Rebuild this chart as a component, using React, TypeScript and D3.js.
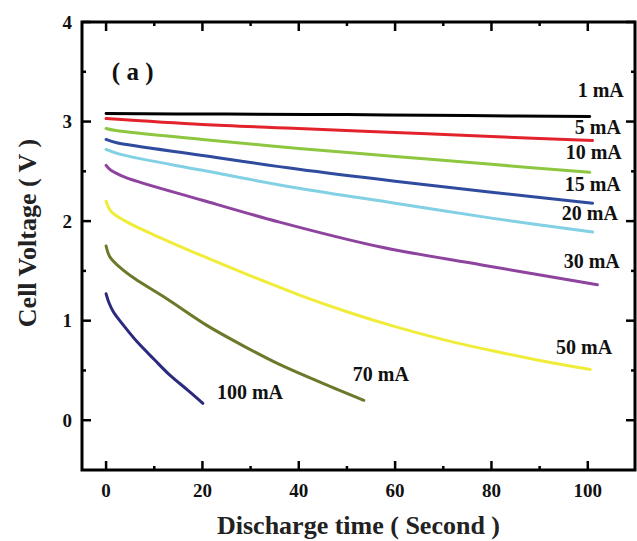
import React from 'react'
import * as d3 from 'd3'

const WIDTH = 637
const HEIGHT = 541
const MARGIN = { top: 22, right: 2, bottom: 71, left: 82 }

// discharge curves: [time (s), voltage (V)]
const curve1mA = [[0, 3.08], [25, 3.075], [50, 3.07], [75, 3.06], [100.4, 3.05]]
const curve5mA = [[0, 3.03], [20, 2.97], [40, 2.93], [60, 2.89], [80, 2.85], [101, 2.81]]
const curve10mA = [[0, 2.93], [2, 2.91], [20, 2.82], [40, 2.73], [60, 2.65], [80, 2.57], [100.4, 2.49]]
const curve15mA = [[0, 2.82], [2, 2.79], [20, 2.66], [40, 2.52], [60, 2.4], [80, 2.29], [101, 2.18]]
const curve20mA = [[0, 2.72], [3, 2.67], [20, 2.51], [40, 2.33], [60, 2.18], [80, 2.03], [101, 1.89]]
const curve30mA = [[0, 2.56], [1, 2.51], [4, 2.44], [20, 2.21], [36, 1.99], [57, 1.74], [78, 1.56], [102, 1.36]]
const curve50mA = [[0, 2.2], [1, 2.1], [4, 2.0], [10, 1.86], [20, 1.65], [30, 1.45], [40, 1.26], [50, 1.09], [60, 0.94], [70, 0.81], [80, 0.7], [90, 0.6], [100.5, 0.51]]
const curve70mA = [[0, 1.75], [0.8, 1.64], [3, 1.53], [6, 1.42], [12.6, 1.22], [21, 0.95], [28, 0.76], [36, 0.56], [45, 0.37], [53.5, 0.2]]
const curve100mA = [[0, 1.27], [0.6, 1.18], [1.5, 1.09], [4, 0.93], [6.4, 0.79], [10, 0.61], [13.3, 0.45], [17, 0.3], [20.1, 0.17]]

const seriesNames = ['1 mA', '5 mA', '10 mA', '15 mA', '20 mA', '30 mA', '50 mA', '70 mA', '100 mA']
const seriesData = [curve1mA, curve5mA, curve10mA, curve15mA, curve20mA, curve30mA, curve50mA, curve70mA, curve100mA]
const seriesColors = ['#000000', '#e3232c', '#8dc63f', '#2f4b9e', '#82d0e3', '#8e449e', '#f0ec3a', '#6b7a2a', '#2b2a7e']

// label anchors in data units (left edge, baseline)
const labelAnchors = [[97.9, 3.25], [97.3, 2.88], [95.4, 2.62], [95.2, 2.3], [94.6, 2.01], [95.0, 1.53], [93.4, 0.67], [51.2, 0.39], [23.0, 0.21]]

const xTicks = [0, 20, 40, 60, 80, 100]
const xMinorTicks = [10, 30, 50, 70, 90]
const yTicks = [0, 1, 2, 3, 4]
const yMinorTicks = [0.5, 1.5, 2.5, 3.5]

const FONT = '"Liberation Serif", "Times New Roman", serif'

export default function App() {
  const boundsWidth = WIDTH - MARGIN.left - MARGIN.right
  const boundsHeight = HEIGHT - MARGIN.top - MARGIN.bottom

  const xScale = d3.scaleLinear().domain([-5, 109.8]).range([0, boundsWidth])
  const yScale = d3.scaleLinear().domain([-0.5, 4]).range([boundsHeight, 0])

  const line = d3
    .line<number[]>()
    .x((d) => xScale(d[0]))
    .y((d) => yScale(d[1]))
    .curve(d3.curveCatmullRom.alpha(0.5))

  const MAJOR = 9
  const MINOR = 4

  return (
    <svg
      width={WIDTH}
      height={HEIGHT}
      style={{ position: 'absolute', left: 0, top: 0, background: '#fff' }}
      fontFamily={FONT}
      fontWeight="bold"
    >
      <g transform={`translate(${MARGIN.left},${MARGIN.top})`}>
        {seriesData.map((d, i) => (
          <path
            key={seriesNames[i]}
            d={line(d) || ''}
            fill="none"
            stroke={seriesColors[i]}
            strokeWidth={3}
            strokeLinecap="round"
          />
        ))}

        {seriesNames.map((name, i) => (
          <text
            key={name}
            x={xScale(labelAnchors[i][0])}
            y={yScale(labelAnchors[i][1])}
            fontSize={20}
            fill="#111"
          >
            {name}
          </text>
        ))}

        <text x={xScale(1.2)} y={yScale(3.42)} fontSize={25} fill="#111">
          ( a )
        </text>

        {/* ticks, all four sides, pointing inward */}
        {xTicks.map((t) => (
          <g key={`xt${t}`} stroke="#000" strokeWidth={2.5}>
            <line x1={xScale(t)} x2={xScale(t)} y1={boundsHeight} y2={boundsHeight - MAJOR} />
            <line x1={xScale(t)} x2={xScale(t)} y1={0} y2={MAJOR} />
          </g>
        ))}
        {xMinorTicks.map((t) => (
          <g key={`xm${t}`} stroke="#000" strokeWidth={2.5}>
            <line x1={xScale(t)} x2={xScale(t)} y1={boundsHeight} y2={boundsHeight - MINOR} />
            <line x1={xScale(t)} x2={xScale(t)} y1={0} y2={MINOR} />
          </g>
        ))}
        {yTicks.map((t) => (
          <g key={`yt${t}`} stroke="#000" strokeWidth={2.5}>
            <line x1={0} x2={MAJOR} y1={yScale(t)} y2={yScale(t)} />
            <line x1={boundsWidth} x2={boundsWidth - MAJOR} y1={yScale(t)} y2={yScale(t)} />
          </g>
        ))}
        {yMinorTicks.map((t) => (
          <g key={`ym${t}`} stroke="#000" strokeWidth={2.5}>
            <line x1={0} x2={MINOR} y1={yScale(t)} y2={yScale(t)} />
            <line x1={boundsWidth} x2={boundsWidth - MINOR} y1={yScale(t)} y2={yScale(t)} />
          </g>
        ))}

        <rect x={0} y={0} width={boundsWidth} height={boundsHeight} fill="none" stroke="#000" strokeWidth={3} />

        {xTicks.map((t) => (
          <text
            key={`xl${t}`}
            x={xScale(t)}
            y={boundsHeight + 27}
            textAnchor="middle"
            fontSize={19}
            fill="#111"
          >
            {t}
          </text>
        ))}
        {yTicks.map((t) => (
          <text
            key={`yl${t}`}
            x={-10}
            y={yScale(t)}
            textAnchor="end"
            dominantBaseline="central"
            fontSize={19}
            fill="#111"
          >
            {t}
          </text>
        ))}

        <text
          x={boundsWidth / 2}
          y={boundsHeight + 64}
          textAnchor="middle"
          fontSize={26}
          fill="#222"
        >
          Discharge time ( Second )
        </text>
        <text
          transform={`translate(${-46},${yScale(1.88)}) rotate(-90)`}
          textAnchor="middle"
          fontSize={26}
          fill="#222"
        >
          Cell Voltage ( V )
        </text>
      </g>
    </svg>
  )
}
